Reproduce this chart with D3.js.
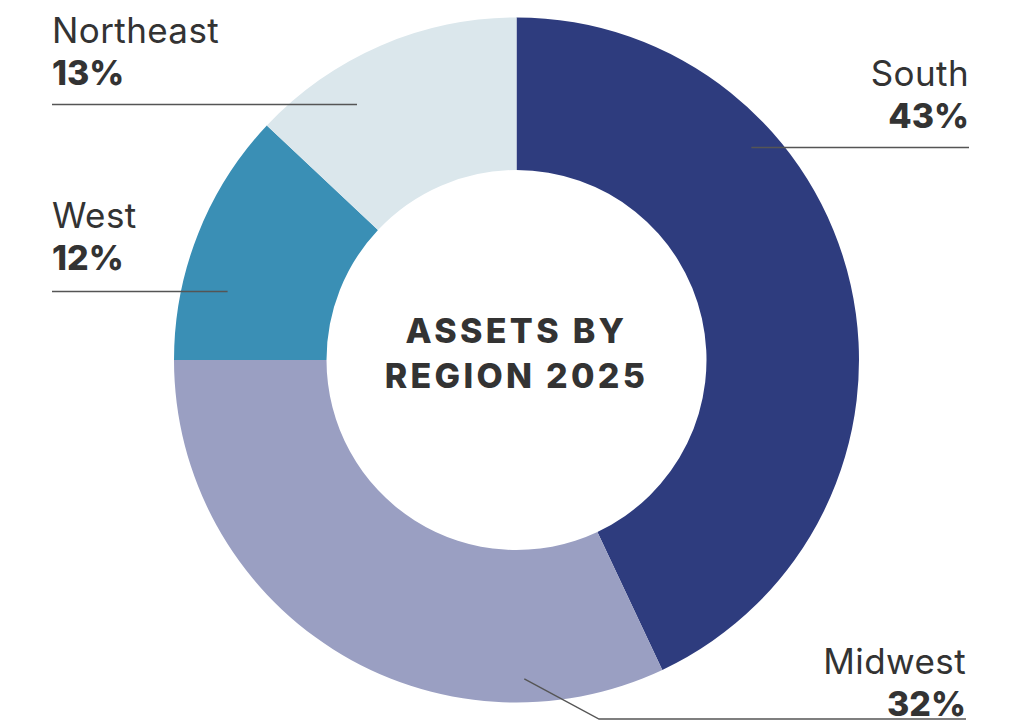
<!DOCTYPE html>
<html>
<head>
<meta charset="utf-8">
<script src="https://cdn.jsdelivr.net/npm/d3@7"></script>
<style>
  body { margin: 0; background: #fff; }
  text { font-family: "Inter", "Open Sans", sans-serif; fill: #333333; }
</style>
</head>
<body>
<div id="chart-area"></div>
<script>
// data
var regions = ["South", "Midwest", "West", "Northeast"];
var shares = [43, 32, 12, 13];
var colors = ["#2e3c7e", "#9a9fc2", "#3a8fb5", "#dbe7ec"];
var titleLines = ["ASSETS BY", "REGION 2025"];

var width = 1031, height = 721;
var cx = 516.5, cy = 360;
var outerR = 342.5, innerR = 190;

// label layout: text anchor point, leader line (polar start, then points)
var labelLayout = {
    South:     { x: 969, y: 86,  anchor: "end",   lineY: 147.5, lineEnd: 969, ang: 47.8,  r: 317 },
    Midwest:   { x: 966, y: 674, anchor: "end",   lineY: 719,   lineEnd: 966, ang: 178.6, r: 319, bendX: 599 },
    West:      { x: 52,  y: 228, anchor: "start", lineY: 291.5, lineEnd: 52,  ang: 283.4, r: 297 },
    Northeast: { x: 52,  y: 43,  anchor: "start", lineY: 104.5, lineEnd: 52,  ang: 328,   r: 301 }
};

var data = regions.map(function(d, i) {
    return { region: d, share: shares[i], color: colors[i] };
});

var svg = d3.select("#chart-area")
    .append("svg")
        .attr("width", width)
        .attr("height", height);

var g = svg.append("g")
    .attr("transform", "translate(" + cx + ", " + cy + ")");

var pie = d3.pie()
    .sort(null)
    .value(function(d) { return d.share; });

var arc = d3.arc()
    .innerRadius(innerR)
    .outerRadius(outerR);

g.selectAll("path.slice")
    .data(pie(data))
    .enter()
    .append("path")
        .attr("class", "slice")
        .attr("d", arc)
        .attr("fill", function(d) { return d.data.color; });

// leader lines + labels
data.forEach(function(d) {
    var L = labelLayout[d.region];
    var a = L.ang * Math.PI / 180;
    var sx = cx + Math.sin(a) * L.r,
        sy = cy - Math.cos(a) * L.r;
    var pts;
    if (L.bendX) {
        pts = [[sx, sy], [L.bendX, L.lineY], [L.lineEnd, L.lineY]];
    } else {
        pts = [[sx, L.lineY], [L.lineEnd, L.lineY]];
    }
    svg.append("path")
        .attr("d", d3.line()(pts))
        .attr("fill", "none")
        .attr("stroke", "#555555")
        .attr("stroke-width", 1.4);

    svg.append("text")
        .attr("x", L.x)
        .attr("y", L.y)
        .attr("text-anchor", L.anchor)
        .attr("font-size", "35px")
        .attr("font-weight", 400)
        .attr("letter-spacing", "0.4px")
        .text(d.region);

    svg.append("text")
        .attr("x", L.x)
        .attr("y", L.y + 41.5)
        .attr("text-anchor", L.anchor)
        .attr("font-size", "34px")
        .attr("font-weight", 800)
        .text(d.share + "%");
});

// center title
g.selectAll("text.title")
    .data(titleLines)
    .enter()
    .append("text")
        .attr("class", "title")
        .attr("x", 0)
        .attr("y", function(d, i) { return -17 + i * 45; })
        .attr("text-anchor", "middle")
        .attr("font-size", "34px")
        .attr("font-weight", 800)
        .attr("letter-spacing", "3.3px")
        .text(function(d) { return d; });
</script>
</body>
</html>
